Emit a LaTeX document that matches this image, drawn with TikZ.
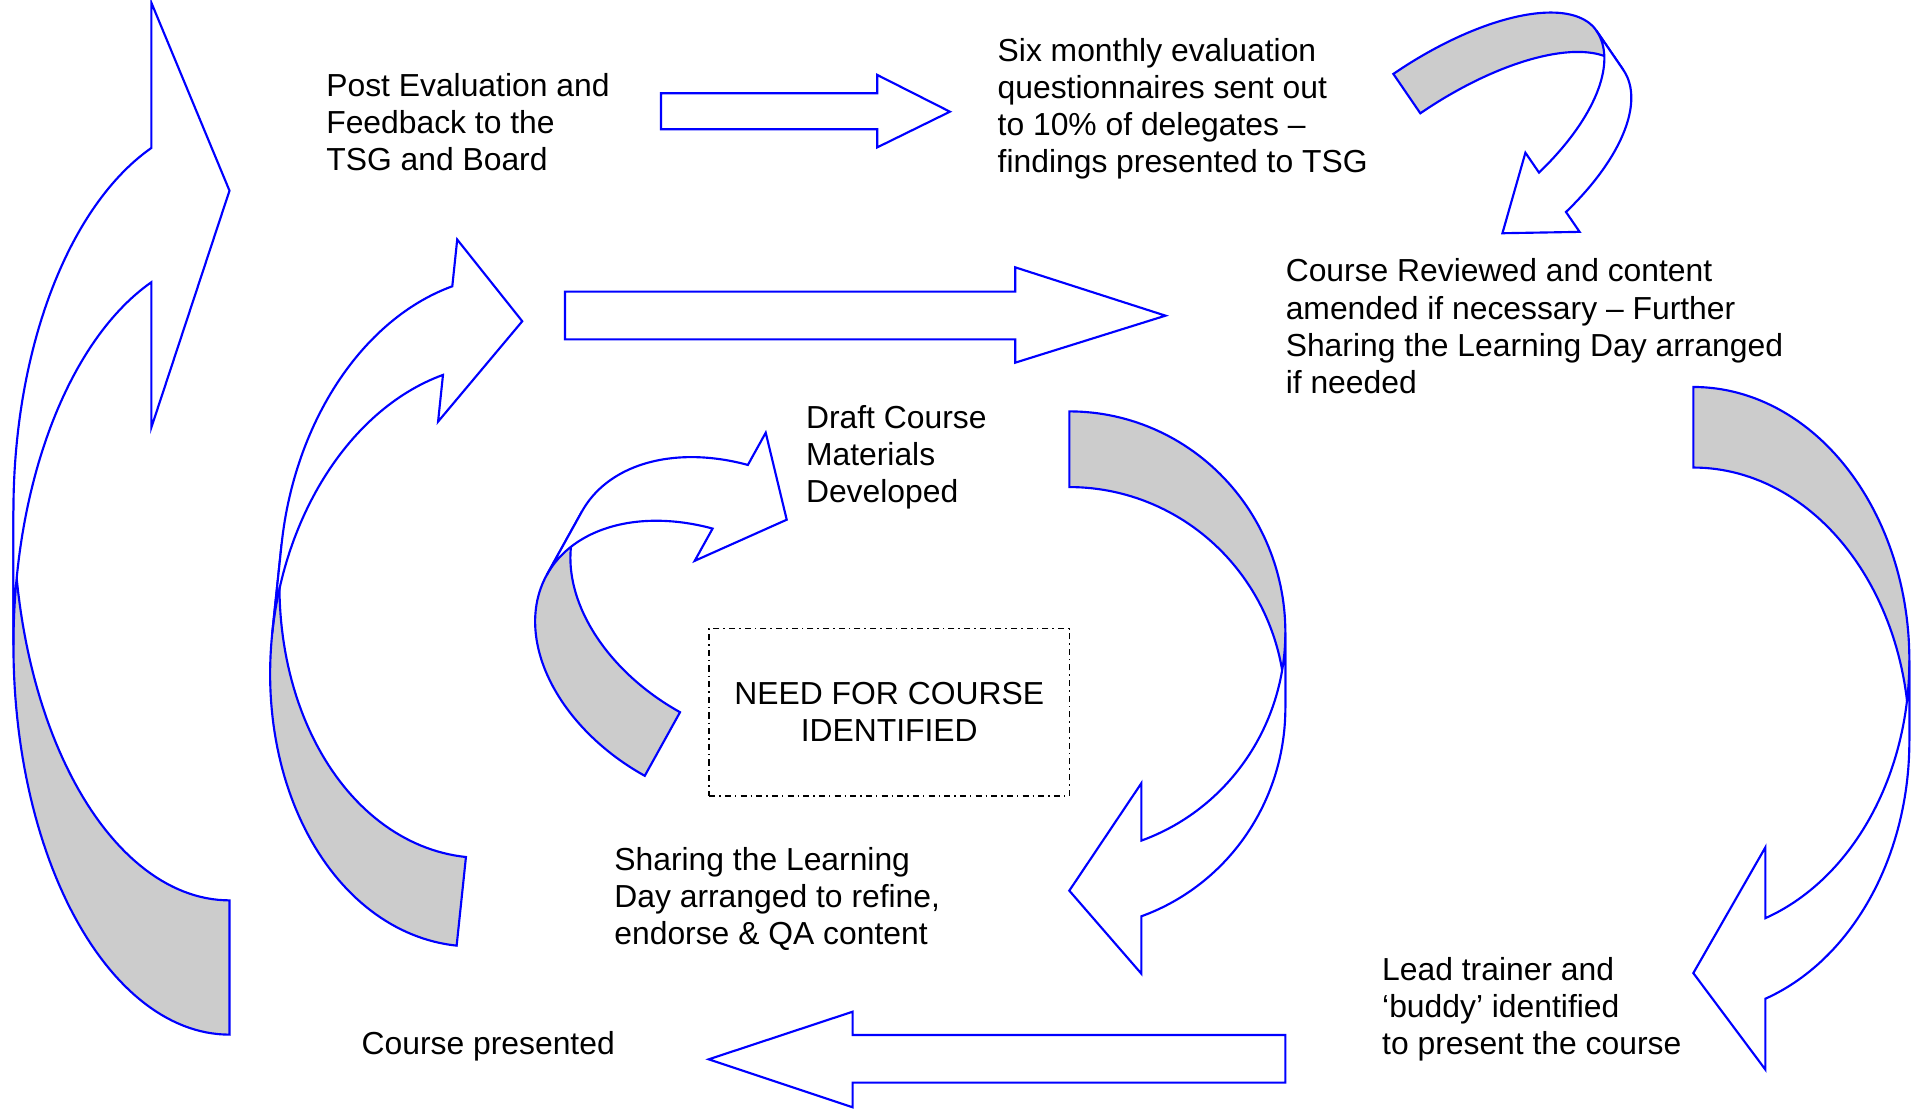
\documentclass[tikz,border=0pt]{standalone}
\usepackage{fontspec}
\setmainfont{Liberation Sans}

% Curved block arrow: a shaded tail band and a white front band with a head.
% #1 tail x radius, #2 tail y radius, #3 front x radius, #4 front y radius,
% #5 band thickness, #6 head length, #7 head half width, #8 tip offset,
% #9 placement (shift/rotate).
\newcommand{\curvedblock}[9]{%
  \begin{scope}[#9]
    \pgfmathsetmacro{\cbAng}{180+acos(#6/#3)}
    \pgfmathsetmacro{\cbYo}{-#4*sin(acos(#6/#3))}
    \pgfmathsetmacro{\cbYm}{\cbYo+#5/2}
    \pgfmathsetmacro{\cbBa}{\cbYm-#7}
    \pgfmathsetmacro{\cbBb}{\cbYm+#7}
    \pgfmathsetmacro{\cbTip}{\cbYm+(#8)}
    \filldraw[tailpart]
      plot[domain=90:180,samples=60] ({#1*cos(\x)},{#5+#2*sin(\x)})
      -- plot[domain=180:90,samples=60] ({#1*cos(\x)},{#2*sin(\x)}) -- cycle;
    \filldraw[frontpart]
      plot[domain=180:\cbAng,samples=60] ({#3*cos(\x)},{#4*sin(\x)})
      -- (-#6,\cbBa) -- (0,\cbTip) -- (-#6,\cbBb)
      -- plot[domain=\cbAng:180,samples=60] ({#3*cos(\x)},{#5+#4*sin(\x)}) -- cycle;
  \end{scope}}

\begin{document}
\begin{tikzpicture}[x=0.6pt,y=-0.6pt,
  outline/.style={draw=blue,line width=1.05pt,line join=miter},
  tailpart/.style={outline,fill=black!20},
  frontpart/.style={outline,fill=white},
  blockarrow/.style={outline,fill=white},
  % multi-line labels are placed by the baseline of their last line
  label/.style={font=\fontsize{15.65}{18.2}\selectfont,inner sep=0pt,align=left,anchor=base west},
  needbox/.style={draw=black,line width=0.8pt,dash pattern=on 3pt off 2pt on 0.7pt off 2pt,
    minimum width=177pt,minimum height=82.2pt,inner sep=0pt,align=center,
    font=\fontsize{15.65}{18.2}\selectfont}]
\fill[white] (0,0) rectangle (1568,909);
\useasboundingbox (0,0) rectangle (1568,909);

% curved arrows
\curvedblock{177}{319}{177}{319}{110}{64}{174}{-20}{shift={(188,418.6)}}
\curvedblock{177}{239}{177}{239}{73}{60}{75}{-14}{shift={(406.7,464.4)},rotate=-6}
\curvedblock{150}{105}{150}{105}{59.6}{49.6}{60}{-6}{shift={(608,491.6)},rotate=-29}
\curvedblock{177}{181}{177}{181}{62}{59}{78}{-10}{shift={(876,580)},rotate=180}
\curvedblock{177}{224}{177}{224}{66}{59}{91}{-12}{shift={(1387.2,607)},rotate=180}
\curvedblock{157.3}{64.7}{157.3}{73.7}{39.1}{52.8}{39.3}{-4.5}{shift={(1200.1,146.2)},rotate=-145.6}

% straight block arrows
\draw[blockarrow] (541.5,76.4) -- (718.7,76.4) -- (718.7,61.4) -- (778.2,91.5)
  -- (718.7,120.7) -- (718.7,105.9) -- (541.5,105.9) -- cycle;
\draw[blockarrow] (462.8,238.9) -- (831.7,238.9) -- (831.7,219) -- (954.8,258.6)
  -- (831.7,297.1) -- (831.7,278) -- (462.8,278) -- cycle;
\draw[blockarrow] (1053,847.9) -- (698.5,847.9) -- (698.5,828.8) -- (580.6,867.8)
  -- (698.5,907.1) -- (698.5,886.9) -- (1053,886.9) -- cycle;

% texts
\node[label] (post) at (267,140) {Post Evaluation and\\Feedback to the\\TSG and Board};
\node[label] (six) at (817,141) {Six monthly evaluation\\questionnaires sent out\\to 10\% of delegates –\\findings presented to TSG};
\node[label] (review) at (1053,322) {Course Reviewed and content\\amended if necessary – Further\\Sharing the Learning Day arranged\\if needed};
\node[label] (draft) at (660,412) {Draft Course\\Materials\\Developed};
\node[needbox] (need) at (728.5,583.5) {NEED FOR COURSE\\IDENTIFIED};
\node[label] (share) at (503,774) {Sharing the Learning\\Day arranged to refine,\\endorse \& QA content};
\node[label] (presented) at (296,864) {Course presented};
\node[label] (lead) at (1132,864) {Lead trainer and\\‘buddy’ identified\\to present the course};
\end{tikzpicture}
\end{document}
